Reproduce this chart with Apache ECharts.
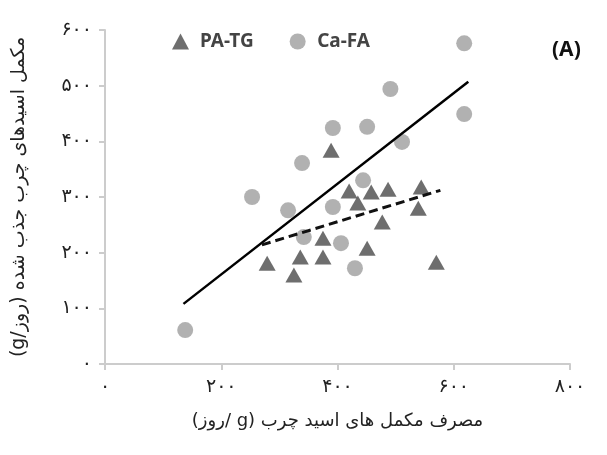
<!DOCTYPE html>
<html>
<head>
<meta charset="utf-8">
<script src="https://cdn.jsdelivr.net/npm/echarts@6/dist/echarts.min.js"></script>
<style>html,body{margin:0;padding:0;background:#fff}#c{width:607px;height:455px}</style>
</head>
<body>
<div id="c"></div>
<script>
// PA-TG (triangles): [intake, absorbed]
const paTG = [[279,181],[325,160],[336,192],[375,192],[375,226],[389,384],[420,311],[435,289],[458,309],[451,208],[477,255],[487,314],[539,280],[544,318],[570,183]];
// Ca-FA (circles)
const caFA = [[138,61],[253,300],[315,276],[339,361],[342,228],[392,424],[392,282],[406,217],[430,172],[444,330],[451,426],[491,494],[511,399],[618,576],[618,449]];
// Fitted lines (endpoints)
const caFALine = [[135,108],[625,507]];
const paTGLine = [[270,214],[577,312]];
const xTicks = [0,200,400,600,800];
const xTickLabels = ['۰','۲۰۰','۴۰۰','۶۰۰','۸۰۰'];
const yTicks = [0,100,200,300,400,500,600];
const yTickLabels = ['۰','۱۰۰','۲۰۰','۳۰۰','۴۰۰','۵۰۰','۶۰۰'];
const seriesNames = ['PA-TG','Ca-FA'];

const FONT = 'DejaVu Sans';
const chart = echarts.init(document.getElementById('c'), null, {renderer:'canvas'});
const axisCol = '#cccccc';
chart.setOption({
  animation:false,
  backgroundColor:'#fff',
  title:{text:'(A)', left:547, top:35, textStyle:{fontFamily:'Noto Sans', fontSize:21, fontWeight:'bold', color:'#111'}},
  legend:{
    left:167, top:27, itemWidth:17, itemHeight:16, itemGap:36,
    textStyle:{fontFamily:'Noto Sans', fontSize:19, fontWeight:'bold', color:'#444', padding:[0,0,0,6]},
    data:[{name:seriesNames[0], icon:'triangle'},{name:seriesNames[1], icon:'circle'}]
  },
  grid:{left:105, right:37, top:30, bottom:91},
  xAxis:{
    type:'value', min:0, max:800, interval:200,
    name:'(روز/ g)\u200E مصرف مکمل های اسید چرب',
    nameLocation:'middle', nameGap:48,
    nameTextStyle:{fontFamily:FONT, fontSize:18, color:'#222'},
    axisLine:{show:true, lineStyle:{color:axisCol, width:2}},
    axisTick:{show:true, length:6, lineStyle:{color:axisCol, width:2}},
    axisLabel:{fontFamily:FONT, fontSize:19, color:'#222', margin:14,
      formatter:v=>{const i=xTicks.indexOf(v);return i>=0?xTickLabels[i]:'';}},
    splitLine:{show:false}
  },
  yAxis:{
    type:'value', min:0, max:600, interval:100,
    name:'(g/روز)\u200E مکمل اسیدهای چرب جذب شده',
    nameLocation:'middle', nameGap:76,
    nameTextStyle:{fontFamily:FONT, fontSize:19, color:'#222'},
    axisLine:{show:true, lineStyle:{color:axisCol, width:2}},
    axisTick:{show:true, length:6, lineStyle:{color:axisCol, width:2}},
    axisLabel:{fontFamily:FONT, fontSize:19, color:'#222', margin:13,
      formatter:v=>{const i=yTicks.indexOf(v);return i>=0?yTickLabels[i]:'';}},
    splitLine:{show:false}
  },
  series:[
    {name:seriesNames[0], type:'scatter', symbol:'triangle', symbolSize:[17,15], data:paTG,
      itemStyle:{color:'#4a4a4a'}, z:3},
    {name:seriesNames[1], type:'scatter', symbol:'circle', symbolSize:16, data:caFA,
      itemStyle:{color:'#9e9e9e'}, z:2},
    {type:'line', data:caFALine, symbol:'none', lineStyle:{color:'#000', width:2.5}, z:4, silent:true},
    {type:'line', data:paTGLine, symbol:'none', lineStyle:{color:'#111', width:3, type:[9,5]}, z:4, silent:true}
  ]
});
</script>
</body>
</html>
